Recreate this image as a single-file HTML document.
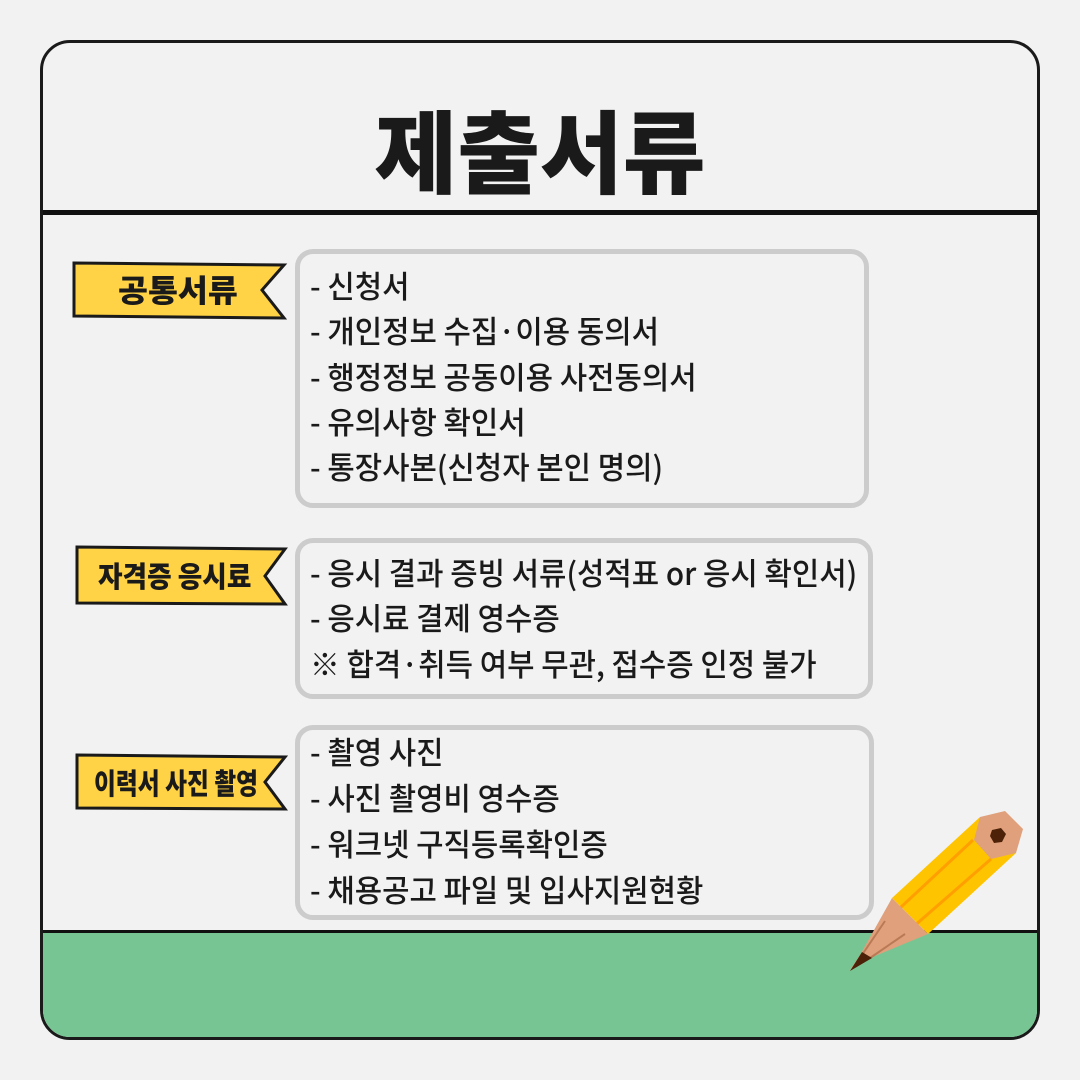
<!DOCTYPE html>
<html><head><meta charset="utf-8"><style>
body{margin:0;width:1080px;height:1080px;background:#f2f2f2;position:relative;overflow:hidden;font-family:"Liberation Sans","Noto Sans CJK KR",sans-serif}
.card{position:absolute;left:40px;top:40px;width:994px;height:994px;border:3px solid #1a1a1a;border-radius:30px;background:#f2f2f2;overflow:hidden}
.green{position:absolute;left:0;right:0;top:887px;bottom:0;background:#78c594;border-top:3px solid #111}
.hline{position:absolute;left:0;right:0;top:167px;height:5px;background:#111}
.box{position:absolute;border:5px solid #cccccc;border-radius:18px;background:#f2f2f2;box-sizing:border-box}
.t{position:absolute;font-family:"Noto Sans CJK KR",sans-serif;font-weight:500;font-size:31px;color:#1a1a1a;white-space:nowrap;transform:scaleX(0.96);transform-origin:left center;line-height:40px}
.title{position:absolute;left:0;width:1080px;top:92px;text-align:center;font-family:"Noto Sans CJK KR",sans-serif;font-weight:900;font-size:90px;line-height:110px;color:#1a1a1a;letter-spacing:0px}
.lab{position:absolute;font-family:"Noto Sans CJK KR",sans-serif;font-weight:900;color:#1a1a1a;white-space:nowrap;transform-origin:left center}
</style></head><body>
<div class="card"><div class="hline"></div><div class="green"></div></div>
<div class="title">제출서류</div>

<svg style="position:absolute;left:0;top:0" width="1080" height="1080">
<polygon points="74,263 284,265 262,290 284,318 74,316" fill="#ffd345" stroke="#1a1a1a" stroke-width="3"/>
<polygon points="77,547 285,549 265,576 285,604 77,603" fill="#ffd345" stroke="#1a1a1a" stroke-width="3"/>
<polygon points="77,755 285,757 265,782 285,809 77,808" fill="#ffd345" stroke="#1a1a1a" stroke-width="3"/>
</svg>
<div class="lab" style="left:118px;top:266px;font-size:31px;line-height:46px;transform:scaleX(1.05)">공통서류</div>
<div class="lab" style="left:98px;top:552px;font-size:29px;line-height:46px;transform:scaleX(0.92)">자격증 응시료</div>
<div class="lab" style="left:94px;top:759px;font-size:29px;line-height:46px;transform:scaleX(0.82)">이력서 사진 촬영</div>

<div class="box" style="left:295px;top:249px;width:574px;height:259px"></div>
<div class="box" style="left:295px;top:538px;width:578px;height:161px"></div>
<div class="box" style="left:295px;top:725px;width:579px;height:195px"></div>

<div class="t" style="left:310px;top:265px">- 신청서</div>
<div class="t" style="left:310px;top:310px">- 개인정보 수집·이용 동의서</div>
<div class="t" style="left:310px;top:356px">- 행정정보 공동이용 사전동의서</div>
<div class="t" style="left:310px;top:401px">- 유의사항 확인서</div>
<div class="t" style="left:310px;top:446px">- 통장사본(신청자 본인 명의)</div>

<div class="t" style="left:310px;top:552px">- 응시 결과 증빙 서류(성적표 or 응시 확인서)</div>
<div class="t" style="left:310px;top:597px">- 응시료 결제 영수증</div>
<div class="t" style="left:310px;top:643px">※ 합격·취득 여부 무관, 접수증 인정 불가</div>

<div class="t" style="left:310px;top:731px">- 촬영 사진</div>
<div class="t" style="left:310px;top:777px">- 사진 촬영비 영수증</div>
<div class="t" style="left:310px;top:823px">- 워크넷 구직등록확인증</div>
<div class="t" style="left:310px;top:869px">- 채용공고 파일 및 입사지원현황</div>

<svg style="position:absolute;left:0;top:0" width="1080" height="1080">
<polygon points="892,898 980,817 1016,853 928,934" fill="#ffc400"/>
<line x1="886" y1="921" x2="973" y2="840" stroke="#ff9f00" stroke-width="3"/>
<line x1="905" y1="934" x2="991" y2="859" stroke="#ff9f00" stroke-width="3"/>
<polygon points="892,898 928,934 870,958 850,970 860,955" fill="#dfa07b"/>
<line x1="885" y1="921" x2="862" y2="955" stroke="#b97a55" stroke-width="2"/>
<line x1="905" y1="934" x2="870" y2="958" stroke="#b97a55" stroke-width="2"/>
<polygon points="862,952 872,958 850,971" fill="#4d2008"/>
<polygon points="980,817 1005,811 1023,829 1016,853 991,859 974,840" fill="#dfa07b"/>
<polygon points="992,830 1001,828 1006,834 1002,842 994,843 990,836" fill="#4d2008"/>
</svg>
</body></html>
